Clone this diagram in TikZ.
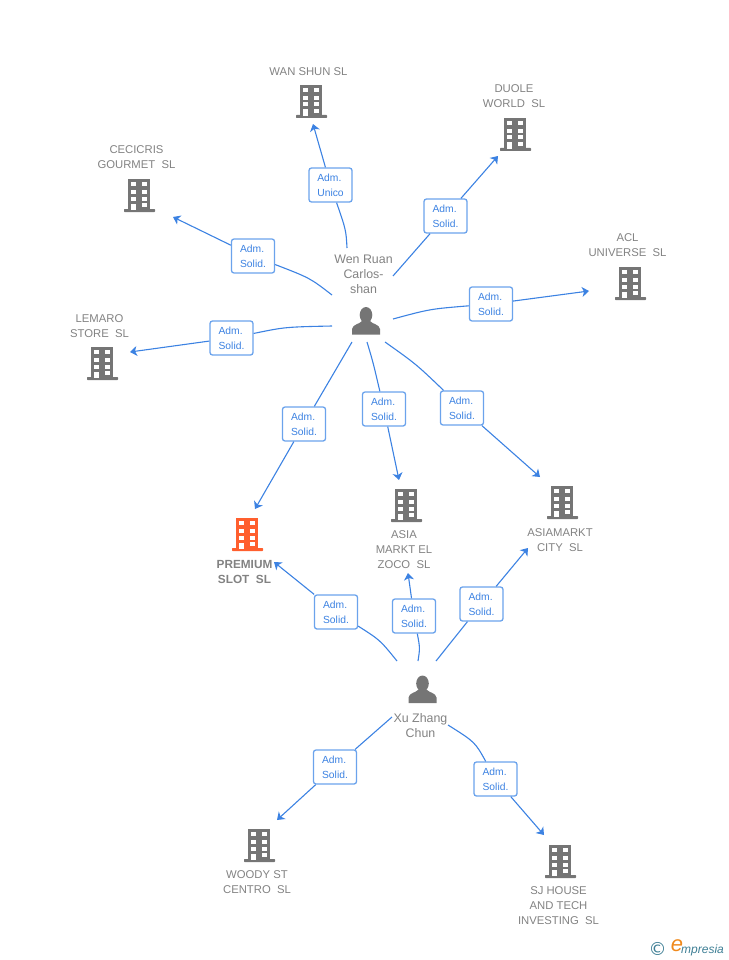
\documentclass[tikz,border=0pt]{standalone}
\usepackage{fontspec}
\setmainfont{Liberation Sans}
\newfontfamily\logofont{DejaVu Sans}
\usetikzlibrary{arrows.meta}
\definecolor{linkblue}{HTML}{3C82E2}
\definecolor{boxblue}{HTML}{6BA3EC}
\definecolor{iconGray}{HTML}{757575}
\definecolor{textGray}{HTML}{828282}
\definecolor{hotOrange}{HTML}{FF5F2E}
\definecolor{logoTeal}{HTML}{3F7F95}
\definecolor{logoOrange}{HTML}{F08A1D}
\tikzset{
  role/.style={draw=boxblue, line width=1.3pt, rounded corners=2.5pt, fill=white,
    minimum width=43pt, minimum height=34pt, inner sep=0pt, align=left,
    text=linkblue, font=\fontsize{10.3}{15}\selectfont},
  company/.style={text=textGray, align=center, inner sep=0pt,
    font=\fontsize{11.3}{15}\selectfont},
  hotcompany/.style={company, font=\fontsize{11.8}{15}\selectfont\bfseries},
  person/.style={text=textGray, align=center, inner sep=0pt,
    font=\fontsize{12.4}{15}\selectfont},
  link/.style={draw=linkblue, line width=1.1pt},
  arrowlink/.style={link, -{Stealth[length=7pt,width=10pt,inset=2pt]}},
  pics/building/.style={code={
    \fill[#1] (-11,-16) rectangle (11,15);
    \fill[#1, rounded corners=0.7pt] (-15,14) rectangle (16,17);
    \fill[white] (-8,-13) rectangle (-3,-9);
    \fill[white] (2.5,-13) rectangle (8,-9);
    \fill[white] (-8,-5) rectangle (-3,-1);
    \fill[white] (2.5,-5) rectangle (8,-1);
    \fill[white] (-8,1.5) rectangle (-3,5.5);
    \fill[white] (2.5,1.5) rectangle (8,5.5);
    \fill[white] (-8,8.5) rectangle (-3,15);
    \fill[white] (2.5,8) rectangle (8,12);
  }},
  pics/human/.style={code={
    \fill[iconGray] (0,-6) ellipse (6.3 and 8);
    \fill[iconGray] (-14,13.5) -- (-14,8) .. controls (-13,3) and (-7,3.5) .. (-4,0)
      -- (4,0) .. controls (7,3.5) and (13,3) .. (14,8) -- (14,13.5) -- cycle;
  }}
}
\begin{document}
\begin{tikzpicture}[x=1pt,y=-1pt]
    \useasboundingbox (0,0) rectangle (728,960);

    % companies
    \pic at (311,101) {building=iconGray};
    \pic at (139,195) {building=iconGray};
    \pic at (515,134) {building=iconGray};
    \pic at (630,283) {building=iconGray};
    \pic at (102,363) {building=iconGray};
    \pic at (247,534) {building=hotOrange};
    \pic at (406,505) {building=iconGray};
    \pic at (562,502) {building=iconGray};
    \pic at (259,845) {building=iconGray};
    \pic at (560,861) {building=iconGray};

    \node[company] (wanshun) at (308.5,72) {WAN SHUN SL};
    \node[company] (cecicris) at (136.5,157.5) {CECICRIS\\GOURMET~~SL};
    \node[company] (duole) at (514,96.5) {DUOLE\\WORLD~~SL};
    \node[company] (acl) at (627.5,245.5) {ACL\\UNIVERSE~~SL};
    \node[company] (lemaro) at (99.5,326) {LEMARO\\STORE~~SL};
    \node[hotcompany] (premium) at (244.5,572) {PREMIUM\\SLOT~~SL};
    \node[company] (asia) at (404,550) {ASIA\\MARKT EL\\ZOCO~~SL};
    \node[company] (asiamarkt) at (560,540.5) {ASIAMARKT\\CITY~~SL};
    \node[company] (woody) at (257,882.5) {WOODY ST\\CENTRO~~SL};
    \node[company] (sjhouse) at (558.5,906) {SJ HOUSE\\AND TECH\\INVESTING~~SL};

    % people
    \pic at (366,321) {human};
    \pic at (422.5,689.5) {human};
    \node[person] (wen) at (363.5,274) {Wen Ruan\\Carlos-\\shan};
    \node[person] (xu) at (420.5,725.5) {Xu Zhang\\Chun};

    % roles
    \node[role] (r1) at (330.5,185) {Adm.\\Unico};
    \node[role] (r2) at (253,256) {Adm.\\Solid.};
    \node[role] (r3) at (445.5,216) {Adm.\\Solid.};
    \node[role] (r4) at (491,304) {Adm.\\Solid.};
    \node[role] (r5) at (231.5,338) {Adm.\\Solid.};
    \node[role] (r6) at (304,424) {Adm.\\Solid.};
    \node[role] (r7) at (384,409) {Adm.\\Solid.};
    \node[role] (r8) at (462,408) {Adm.\\Solid.};
    \node[role] (r9) at (336,612) {Adm.\\Solid.};
    \node[role] (r10) at (414,616) {Adm.\\Solid.};
    \node[role] (r11) at (481.5,604) {Adm.\\Solid.};
    \node[role] (r12) at (335,767) {Adm.\\Solid.};
    \node[role] (r13) at (495.5,779) {Adm.\\Solid.};

    % free ends next to the icons
    \coordinate (w1) at (347,248);
    \coordinate (w2) at (332,295);
    \coordinate (w3) at (393,276);
    \coordinate (w4) at (393,319);
    \coordinate (w5) at (332,326);
    \coordinate (w6) at (352,342);
    \coordinate (w7) at (367,342);
    \coordinate (w8) at (385,342);
    \coordinate (x1) at (397,661);
    \coordinate (x2) at (418,661);
    \coordinate (x3) at (436,661);
    \coordinate (x4) at (392,717);
    \coordinate (x5) at (448,725);
    \coordinate (t1) at (313,124);
    \coordinate (t2) at (173,217);
    \coordinate (t3) at (498,156);
    \coordinate (t4) at (589,291);
    \coordinate (t5) at (130,352);
    \coordinate (t6) at (255,509);
    \coordinate (t7) at (399,480);
    \coordinate (t8) at (540,477);
    \coordinate (t9) at (274,562);
    \coordinate (t10) at (408,573);
    \coordinate (t11) at (528,548);
    \coordinate (t12) at (277,820);
    \coordinate (t13) at (544,835);

    \draw[link] (w1) .. controls (346,230) .. (r1);
    \draw[arrowlink] (r1) -- (t1);
    \draw[link] (w2) .. controls (310,278) .. (r2);
    \draw[arrowlink] (r2) -- (t2);
    \draw[link] (w3) -- (r3);
    \draw[arrowlink] (r3) -- (t3);
    \draw[link] (w4) .. controls (430,309) .. (r4);
    \draw[arrowlink] (r4) -- (t4);
    \draw[link] (w5) .. controls (285,327) .. (r5);
    \draw[arrowlink] (r5) -- (t5);
    \draw[link] (w6) -- (r6);
    \draw[arrowlink] (r6) -- (t6);
    \draw[link] (w7) .. controls (373,362) .. (r7);
    \draw[arrowlink] (r7) -- (t7);
    \draw[link] (w8) .. controls (416,364) .. (r8);
    \draw[arrowlink] (r8) -- (t8);
    \draw[link] (x1) .. controls (380,640) .. (r9);
    \draw[arrowlink] (r9) -- (t9);
    \draw[link] (x2) .. controls (420,648) .. (r10);
    \draw[arrowlink] (r10) -- (t10);
    \draw[link] (x3) -- (r11);
    \draw[arrowlink] (r11) -- (t11);
    \draw[link] (x4) -- (r12);
    \draw[arrowlink] (r12) -- (t12);
    \draw[link] (x5) .. controls (475,742) .. (r13);
    \draw[arrowlink] (r13) -- (t13);

    % logo
    \node[inner sep=0pt, text=logoTeal, font=\logofont\fontsize{18}{18}\selectfont] (copyright) at (657.5,948.5) {©};
    \node[inner sep=0pt, text=logoOrange, font=\fontsize{22}{22}\selectfont\itshape] (logoe) at (677,946) {e};
    \node[inner sep=0pt, anchor=west, text=logoTeal, font=\fontsize{12}{15}\selectfont\itshape] (empresia) at (681,950) {mpresia};
  \end{tikzpicture}
\end{document}
